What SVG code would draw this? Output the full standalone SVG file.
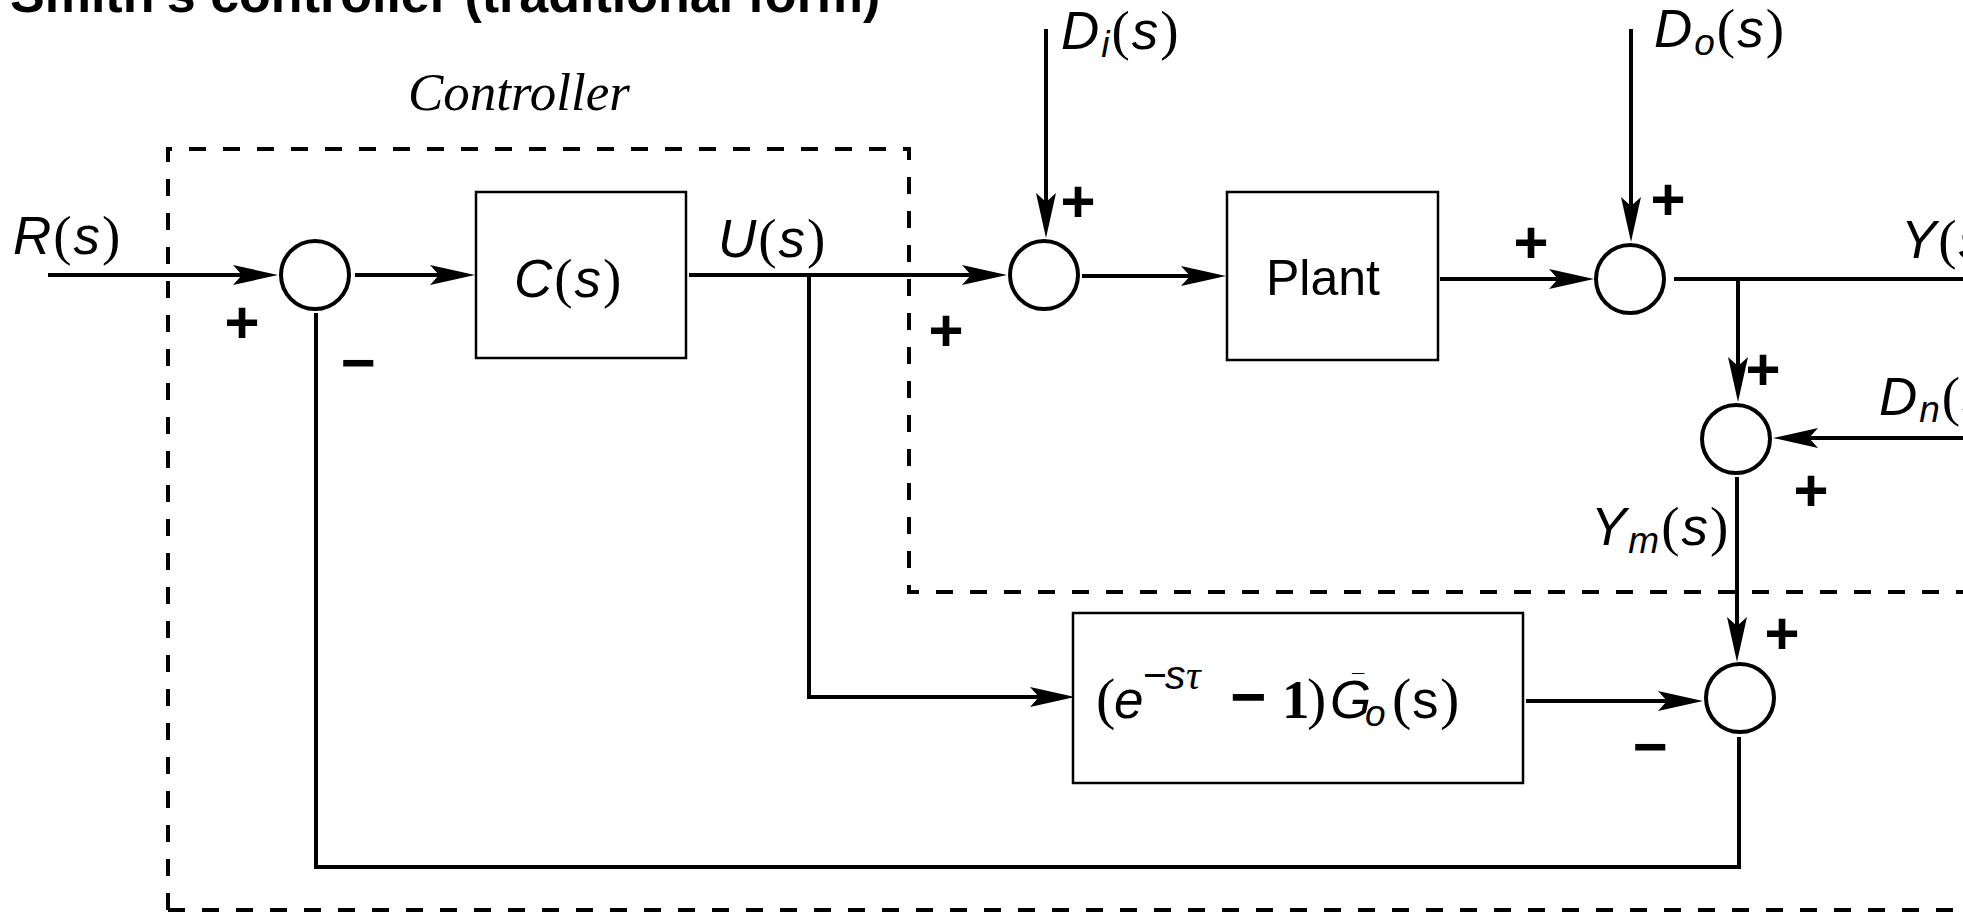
<svg xmlns="http://www.w3.org/2000/svg" width="1963" height="912" viewBox="0 0 1963 912">
<style>
.ln{stroke:#000;stroke-width:4;fill:none}
.dash{stroke:#000;stroke-width:4;fill:none;stroke-dasharray:17 17}
.sum{fill:#fff;stroke:#000;stroke-width:4}
.blk{fill:#fff;stroke:#000;stroke-width:2.5}
text{fill:#000}
.lbl{font-family:"Liberation Sans",Arial,sans-serif;font-size:53px;letter-spacing:2px}
.mi{font-family:"Liberation Sans",Arial,sans-serif;font-style:italic}
.mp{font-family:"Liberation Serif","Times New Roman",serif;font-size:55px}
.sub{font-size:37px}
.sup{font-size:41px}
.sign{font-family:"Liberation Sans",Arial,sans-serif;font-weight:bold;font-size:60px;text-anchor:middle}
.title{font-family:"Liberation Sans",Arial,sans-serif;font-weight:bold;font-size:52px}
.ctl{font-family:"Liberation Serif","Times New Roman",serif;font-style:italic;font-size:53px}
.gx{font-family:"Liberation Sans",Arial,sans-serif;font-size:53px}
</style>
<defs>
<marker id="ah" markerUnits="userSpaceOnUse" viewBox="-46 -11 47 22" markerWidth="47" markerHeight="22" refX="-20" refY="0" orient="auto">
<path d="M0,0 L-45,-10 L-36,0 L-45,10 Z" fill="#000"/>
</marker>
</defs>
<rect width="1963" height="912" fill="#fff"/>
<text class="title" x="10" y="12">Smith's controller (traditional form)</text>
<g id="controller-boundary">
<path class="dash" d="M168,910 V149 H909 V592 H1963"/>
<path class="dash" d="M168,910 H1963"/>
<text class="ctl" x="408" y="110">Controller</text>
</g>
<g id="connectors">
<path class="ln" marker-end="url(#ah)" d="M48,275 H258"/>
<path class="ln" marker-end="url(#ah)" d="M355,275 H455"/>
<path class="ln" marker-end="url(#ah)" d="M689,275 H987"/>
<path class="ln" marker-end="url(#ah)" d="M809,275 V697 H1055"/>
<path class="ln" marker-end="url(#ah)" d="M1046,29 V218"/>
<path class="ln" marker-end="url(#ah)" d="M1082,276 H1206"/>
<path class="ln" marker-end="url(#ah)" d="M1440,279 H1574"/>
<path class="ln" marker-end="url(#ah)" d="M1631,29 V222"/>
<path class="ln" d="M1674,279 H1963"/>
<path class="ln" marker-end="url(#ah)" d="M1738,279 V382"/>
<path class="ln" marker-end="url(#ah)" d="M1963,438 H1793"/>
<path class="ln" marker-end="url(#ah)" d="M1737,477 V642"/>
<path class="ln" marker-end="url(#ah)" d="M1526,701 H1683"/>
<path class="ln" d="M1739,737 V867 H316 V313"/>
</g>
<g id="sum1"><circle class="sum" cx="315" cy="275" r="34"/>
<text class="sign" x="242" y="343">+</text><text class="sign" x="358" y="383">−</text></g>
<g id="sum2"><circle class="sum" cx="1044" cy="275" r="34"/>
<text class="sign" x="1078" y="222">+</text><text class="sign" x="946" y="351">+</text></g>
<g id="sum3"><circle class="sum" cx="1630" cy="279" r="34"/>
<text class="sign" x="1531" y="263">+</text><text class="sign" x="1668" y="220">+</text></g>
<g id="sum5"><circle class="sum" cx="1736" cy="439" r="34"/>
<text class="sign" x="1763" y="390">+</text><text class="sign" x="1811" y="511">+</text></g>
<g id="sum4"><circle class="sum" cx="1740" cy="698" r="34"/>
<text class="sign" x="1782" y="654">+</text><text class="sign" x="1650" y="767">−</text></g>
<g id="C"><rect class="blk" x="476" y="192" width="210" height="166"/>
<text class="lbl" x="514" y="297"><tspan class="mi">C</tspan><tspan class="mp">(</tspan><tspan class="mi">s</tspan><tspan class="mp">)</tspan></text></g>
<g id="plant"><rect class="blk" x="1227" y="192" width="211" height="168"/>
<text class="gx" x="1266" y="295" style="font-size:50px">Plant</text></g>
<g id="G"><rect class="blk" x="1073" y="613" width="450" height="170"/>
<text class="gx" y="718"><tspan class="mp" x="1096" style="font-size:58px">(</tspan><tspan class="mi" x="1114">e</tspan><tspan class="sup" x="1143" y="689">−</tspan><tspan class="mi sup" x="1165" y="689">s</tspan><tspan class="mp sup" x="1186" y="689" font-style="italic">τ</tspan><tspan x="1248" y="718" style="font-weight:bold;font-size:62px;text-anchor:middle">−</tspan><tspan class="mp" x="1282" style="font-weight:bold;text-anchor:start">1</tspan><tspan class="mp" x="1307" style="font-size:58px">)</tspan><tspan class="mi" x="1330">G</tspan><tspan class="mi sub" x="1365" y="726">o</tspan><tspan class="mp" x="1392" y="718" style="font-size:58px">(</tspan><tspan x="1412">s</tspan><tspan class="mp" x="1440" style="font-size:58px">)</tspan><tspan x="1352" y="690" style="font-size:22px;font-weight:bold">¯</tspan></text></g>
<g id="labels">
<text class="lbl" x="13" y="254"><tspan class="mi">R</tspan><tspan class="mp">(</tspan><tspan class="mi">s</tspan><tspan class="mp">)</tspan></text>
<text class="lbl" x="718" y="257"><tspan class="mi">U</tspan><tspan class="mp">(</tspan><tspan class="mi">s</tspan><tspan class="mp">)</tspan></text>
<text class="lbl" x="1061" y="49"><tspan class="mi">D</tspan><tspan class="mi sub" dy="8">i</tspan><tspan class="mp" dy="-8">(</tspan><tspan class="mi">s</tspan><tspan class="mp">)</tspan></text>
<text class="lbl" x="1654" y="47"><tspan class="mi">D</tspan><tspan class="mi sub" dy="8">o</tspan><tspan class="mp" dy="-8">(</tspan><tspan class="mi">s</tspan><tspan class="mp">)</tspan></text>
<text class="lbl" x="1901" y="258"><tspan class="mi">Y</tspan><tspan class="mp">(</tspan><tspan class="mi">s</tspan><tspan class="mp">)</tspan></text>
<text class="lbl" x="1879" y="415"><tspan class="mi">D</tspan><tspan class="mi sub" dy="7">n</tspan><tspan class="mp" dy="-7">(</tspan><tspan class="mi">s</tspan><tspan class="mp">)</tspan></text>
<text class="lbl" x="1591" y="545"><tspan class="mi">Y</tspan><tspan class="mi sub" dy="8">m</tspan><tspan class="mp" dy="-8">(</tspan><tspan class="mi">s</tspan><tspan class="mp">)</tspan></text>
</g>
</svg>
